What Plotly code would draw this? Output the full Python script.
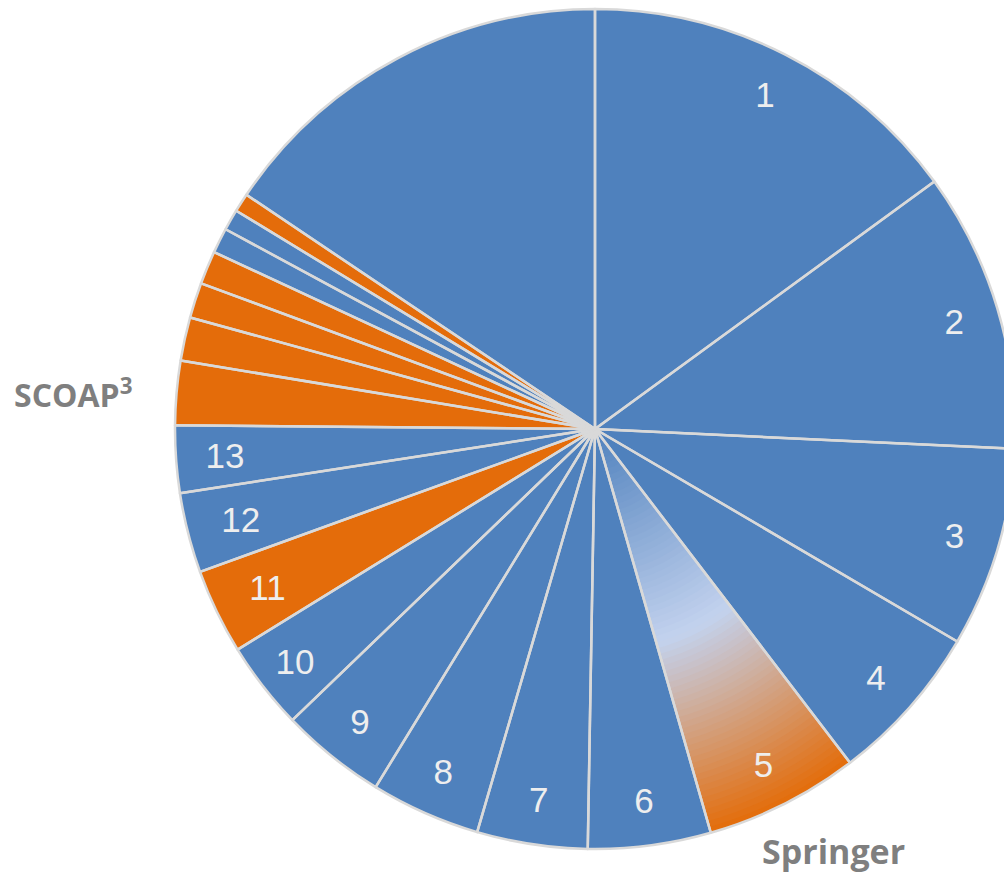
import plotly.graph_objects as go

# ---------------- data ----------------
slice_names = ["1", "2", "3", "4", "5 (Springer)", "6", "7", "8", "9", "10", "11", "12", "13",
               "SCOAP3 a", "SCOAP3 b", "SCOAP3 c", "SCOAP3 d", "small e", "small f", "SCOAP3 g", "Other"]
slice_text = ["1", "2", "3", "4", "5", "6", "7", "8", "9", "10", "11", "12", "13",
              "", "", "", "", "", "", "", ""]
shares = [14.97, 10.78, 7.69, 6.17, 5.94, 4.72, 4.25, 4.22, 4.06, 3.39, 3.28, 3.08, 2.58,
          2.47, 1.67, 1.36, 1.28, 0.97, 0.81, 0.72, 15.58]
slice_group = ["blue", "blue", "blue", "blue", "gradient", "blue", "blue", "blue", "blue", "blue",
               "orange", "blue", "blue", "orange", "orange", "orange", "orange", "blue", "blue",
               "orange", "blue"]

BLUE = "#4f81bd"
ORANGE = "#e46c0a"
LINE = "#d9d9d9"
LABEL_GRAY = "#7f7f7f"

# gradient stops for the Springer slice (fraction of radius -> colour)
grad_stops = [(0.0, (79, 129, 189)), (0.53, (195, 210, 238)), (1.0, (228, 108, 10))]

# ---------------- geometry of the figure ----------------
W, H = 1030, 876
CX, CY, R = 595, 429, 420
INNER_LABELS = {"11", "12", "13"}   # labels drawn on a slightly smaller ring


def dom(r):
    return dict(x=[(CX - r) / W, (CX + r) / W], y=[(H - CY - r) / H, (H - CY + r) / H])


def grad_color(t):
    for (t0, c0), (t1, c1) in zip(grad_stops[:-1], grad_stops[1:]):
        if t0 <= t <= t1:
            f = (t - t0) / (t1 - t0)
            c = [round(a + (b - a) * f) for a, b in zip(c0, c1)]
            return "rgb(%d,%d,%d)" % tuple(c)
    return "rgb(%d,%d,%d)" % grad_stops[-1][1]


TRANSPARENT = "rgba(0,0,0,0)"
base_colors = [ORANGE if g == "orange" else BLUE for g in slice_group]

common = dict(labels=slice_names, values=shares, sort=False, direction="clockwise",
              rotation=0, showlegend=False, hoverinfo="skip")

fig = go.Figure()
# main pie
fig.add_trace(go.Pie(**common, domain=dom(R), textinfo="none",
                     marker=dict(colors=base_colors, line=dict(color=LINE, width=0))))

# gradient rings for the Springer slice (drawn from outside inwards)
N = 70
for k in range(N):
    r = R * (1 - k / N)
    t = 1 - (k + 0.5) / N
    cols = [grad_color(t) if g == "gradient" else TRANSPARENT for g in slice_group]
    fig.add_trace(go.Pie(**common, domain=dom(r), textinfo="none",
                         marker=dict(colors=cols, line=dict(width=0))))

# separator lines on top
fig.add_trace(go.Pie(**common, domain=dom(R), textinfo="none",
                     marker=dict(colors=[TRANSPARENT] * len(shares), line=dict(color=LINE, width=2.5))))

# number labels in outer rings
label_font = dict(family="Liberation Sans", size=35, color="#eeeeee")
outer_text = [s if s not in INNER_LABELS else "" for s in slice_text]
inner_text = [s if s in INNER_LABELS else "" for s in slice_text]
for txt, rr in ((outer_text, R), (inner_text, R * 0.955)):
    fig.add_trace(go.Pie(**common, domain=dom(rr), hole=0.786, text=txt, textinfo="text",
                         textposition="inside", insidetextorientation="horizontal",
                         insidetextfont=label_font,
                         marker=dict(colors=[TRANSPARENT] * len(shares), line=dict(width=0))))

fig.add_annotation(x=833 / W, y=(H - 851) / H, xref="paper", yref="paper", text="<b>Springer</b>",
                   showarrow=False, xanchor="center", yanchor="middle", borderpad=0,
                   font=dict(family="Open Sans", size=34, color=LABEL_GRAY))
fig.add_annotation(x=73 / W, y=(H - 393) / H, xref="paper", yref="paper", text="<b>SCOAP<sup>3</sup></b>",
                   showarrow=False, xanchor="center", yanchor="middle",
                   font=dict(family="Open Sans", size=32, color=LABEL_GRAY))

fig.update_layout(width=W, height=H, margin=dict(l=0, r=0, t=0, b=0),
                  paper_bgcolor="white", plot_bgcolor="white",
                  uniformtext=dict(minsize=35, mode="show"))

fig.write_html("out.html", config={"displayModeBar": False},
               post_script="document.body.style.margin='0';document.body.style.overflow='hidden';")
